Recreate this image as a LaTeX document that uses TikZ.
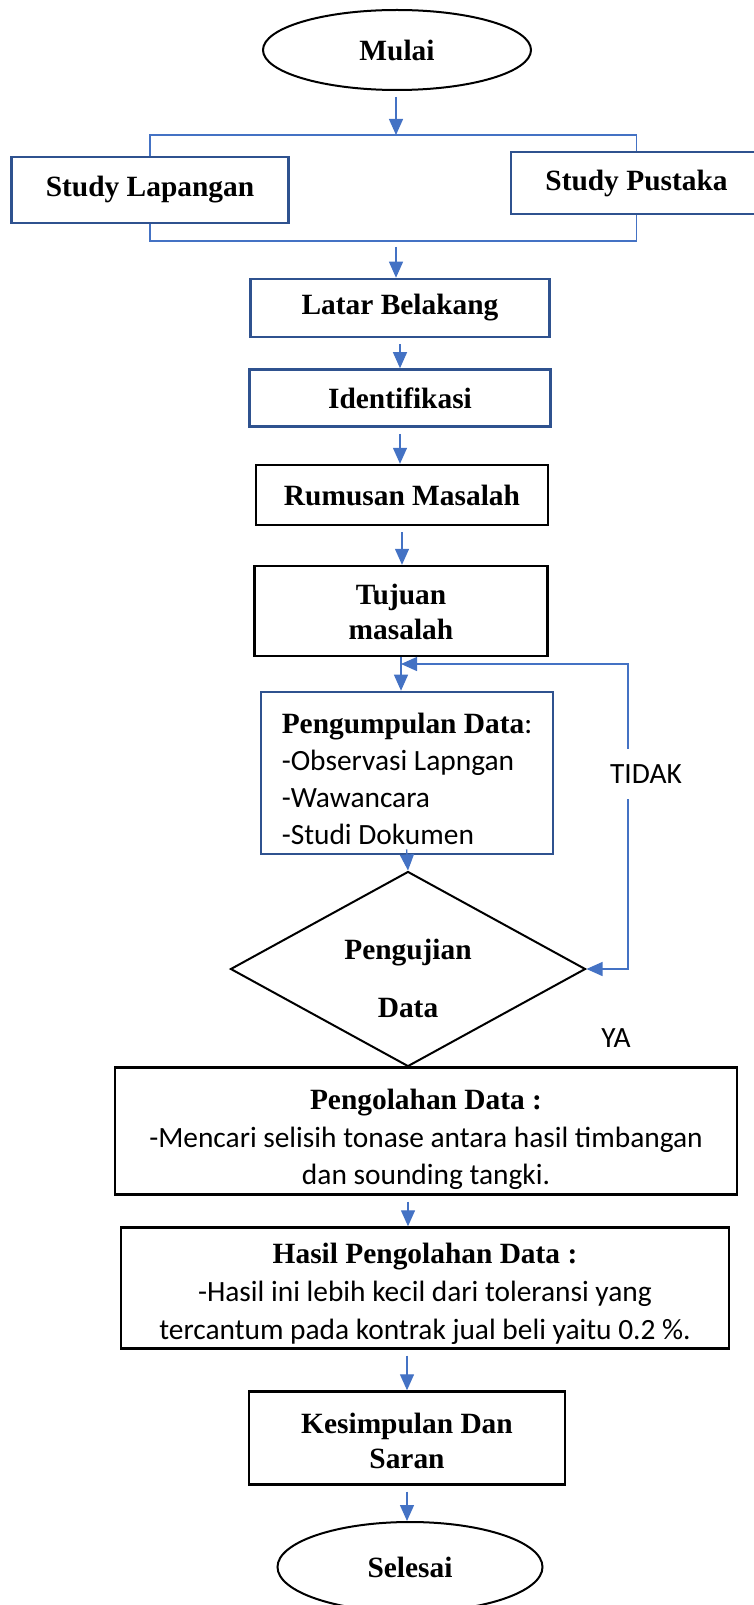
\documentclass[tikz,border=0pt]{standalone}
\usepackage{fontspec}
\setmainfont{Liberation Serif}
\newfontfamily\bodyfont{Carlito}
\usetikzlibrary{shapes.geometric,arrows.meta}
\newcommand{\bodytxt}[1]{{\bodyfont\mdseries #1}}
\newcommand{\lift}[1]{\rule{0pt}{#1}}
\definecolor{boxblue}{RGB}{47,82,143}
\definecolor{lineblue}{RGB}{68,114,196}

\begin{document}
\begin{tikzpicture}[x=0.5pt,y=0.5pt,yscale=-1,
    every node/.style={font=\fontsize{14.7}{17.5}\selectfont\bfseries},
    terminal/.style={draw,ellipse,line width=1pt,inner sep=0pt,minimum width=134pt,minimum height=40pt},
    bluebox/.style={draw=boxblue,line width=1.3pt,inner sep=0pt,align=center},
    blackbox/.style={draw,line width=1.2pt,inner sep=0pt,align=center},
    decision/.style={draw,diamond,aspect=1.8,line width=1pt,inner sep=0pt,align=center,minimum width=177.5pt,minimum height=97.5pt},
    note/.style={font=\fontsize{14.7}{17.5}\selectfont\bodyfont},
    flow/.style={draw=lineblue,line width=0.65pt,-{Triangle[length=8pt,width=7pt]},shorten <=3pt},
    loopback/.style={draw=lineblue,line width=0.65pt,{Triangle[length=8pt,width=7pt]}-{Triangle[length=8pt,width=7pt]}},
    bar/.style={draw=lineblue,line width=0.65pt}]
\useasboundingbox (0,0) rectangle (754,1605);

% start and the two studies
\node [terminal] (mulai) at (397,50) {Mulai};
\coordinate (split) at (396,135);
\coordinate (join) at (396,241);
\node [bluebox,minimum width=138.5pt,minimum height=33pt] (lapangan) at (150,190) {Study Lapangan};
\node [bluebox,minimum width=125.5pt,minimum height=31pt] (pustaka) at (636.5,183) {Study Pustaka};
\draw [flow] (mulai.south -| split) -- (split);
\draw [bar] (lapangan.north) |- (split) -| (pustaka.north);
\draw [bar] (lapangan.south) |- (join) -| (pustaka.south);

% main column
\node [bluebox,minimum width=149.5pt,minimum height=29pt] (latar) at (400,308) {Latar Belakang};
\node [bluebox,minimum width=150.5pt,minimum height=28.5pt] (identifikasi) at (400,398) {Identifikasi};
\node [blackbox,minimum width=146pt,minimum height=30pt] (rumusan) at (402,495) {Rumusan Masalah};
\node [blackbox,minimum width=146.5pt,minimum height=45pt] (tujuan) at (401,611) {\lift{11.5pt}Tujuan\\masalah};
\node [bluebox,align=left,minimum width=146pt,minimum height=81pt,font=\fontsize{14.7}{18.5}\selectfont\bfseries] (kumpul) at (407,773)
    {\lift{16pt}Pengumpulan Data\bodytxt{:}\\\bodytxt{-Observasi Lapngan}\\\bodytxt{-Wawancara}\\\bodytxt{-Studi Dokumen}};
\node [decision] (uji) at (408,969) {\lift{20pt}Pengujian\\[11.5pt]Data};
\node [blackbox,minimum width=311pt,minimum height=63.5pt,font=\fontsize{14.7}{18.75}\selectfont\bfseries] (olah) at (426,1131)
    {\lift{19pt}Pengolahan Data :\\\bodytxt{-Mencari selisih tonase antara hasil timbangan}\\\bodytxt{dan sounding tangki.}};
\node [blackbox,minimum width=304pt,minimum height=60.5pt,font=\fontsize{14.7}{19}\selectfont\bfseries] (hasil) at (425,1288)
    {\lift{16pt}Hasil Pengolahan Data :\\\bodytxt{-Hasil ini lebih kecil dari toleransi yang}\\\bodytxt{tercantum pada kontrak jual beli yaitu 0.2 \%.}};
\node [blackbox,minimum width=158pt,minimum height=46.5pt] (simpul) at (407,1438) {\lift{13pt}Kesimpulan Dan\\Saran};
\node [terminal,minimum width=132.5pt,minimum height=45pt] (selesai) at (410,1567) {Selesai};

\draw [flow] (join) -- (join |- latar.north);
\draw [flow] (latar.south) -- (identifikasi.north);
\draw [flow] (identifikasi.south) -- (identifikasi.south |- rumusan.north);
\draw [flow] (rumusan.south) -- (rumusan.south |- tujuan.north);
\draw [flow,shorten <=0pt] (tujuan.south) -- (tujuan.south |- kumpul.north);
\draw [flow] (kumpul.south) -- (uji.north);
\draw [flow] (uji |- olah.south) -- (uji |- hasil.north);
\draw [flow] (simpul |- hasil.south) -- (simpul.north);
\draw [flow] (simpul.south) -- (simpul.south |- selesai.north);

% return branch
\coordinate (back) at (401,664);
\coordinate (turn) at (628,664);
\draw [loopback] (uji.east) -| (turn) -- (back);
\node [note,fill=white,inner xsep=1pt,inner ysep=8pt] (tidak) at (646,774) {TIDAK};
\node [note] (ya) at (616,1038) {YA};
\end{tikzpicture}
\end{document}
